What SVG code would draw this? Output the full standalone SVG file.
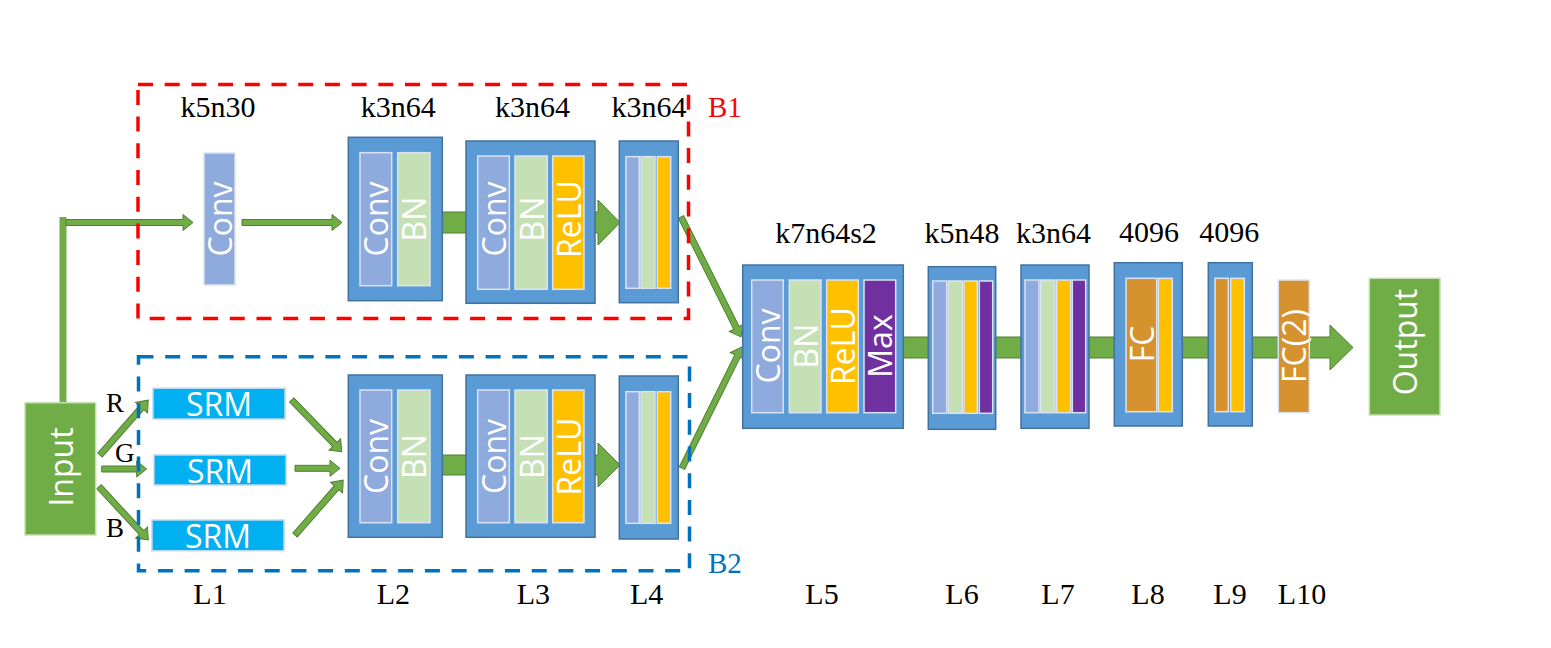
<svg xmlns="http://www.w3.org/2000/svg" width="1551" height="648" viewBox="0 0 1551 648">
<style>
.bg{fill:#ffffff}
.lbl{font-family:"Liberation Serif","Times New Roman",serif;font-size:30px;fill:#000000;text-anchor:middle}
.rgb{font-family:"Liberation Serif","Times New Roman",serif;font-size:27px;fill:#000000}
.blk{fill:#5b9bd5;stroke:#41719c;stroke-width:1.5}
.sub{stroke:#dae3f3;stroke-width:1.5}
.conv{fill:#8faadc}
.bn{fill:#c5e0b4}
.relu{fill:#ffc000}
.max{fill:#7030a0}
.fc{fill:#d6922e}
.srm{fill:#00b0f0;stroke:#bdd7ee;stroke-width:1.5}
.io{fill:#70ad47;stroke:#c5e0b4;stroke-width:1.5}
.wt{font-family:"Open Sans","Noto Sans","DejaVu Sans",sans-serif;font-size:32px;fill:#ffffff;text-anchor:middle;dominant-baseline:central}
.arr{fill:#70ad47;stroke:#507e32;stroke-width:1}
.trunk{fill:#70ad47}
</style>
<rect class="bg" x="0" y="0" width="1551" height="648"/>

<g id="connectors">
  <rect class="trunk" x="59.5" y="217" width="7" height="186"/>
  <path class="arr" transform="translate(66,222.5)" d="M0,-3 H117 V-8 L127,0 L117,8 V3 H0 Z"/>
  <path class="arr" transform="translate(242,222.5)" d="M0,-3 H90 V-8 L100,0 L90,8 V3 H0 Z"/>
  <path class="arr" d="M442,212 H598 V200 L620,222.5 L598,245 V233 H442 Z"/>
  <path class="arr" d="M442,455 H598 V443 L620,465 L598,487 V475 H442 Z"/>
  <path class="arr" transform="translate(681,217) rotate(63.43)" d="M0,-3 H124 V-8 L134,0 L124,8 V3 H0 Z"/>
  <path class="arr" transform="translate(682,468) rotate(-63.6)" d="M0,-3 H125 V-8 L135,0 L125,8 V3 H0 Z"/>
  <path class="arr" transform="translate(100,455) rotate(-48.7)" d="M0,-3 H63 V-8 L73,0 L63,8 V3 H0 Z"/>
  <path class="arr" transform="translate(101.7,469)" d="M0,-3 H35 V-8 L45,0 L35,8 V3 H0 Z"/>
  <path class="arr" transform="translate(99,486.7) rotate(47.2)" d="M0,-3 H62.6 V-8 L72.6,0 L62.6,8 V3 H0 Z"/>
  <path class="arr" transform="translate(291.7,400) rotate(45.9)" d="M0,-3 H62 V-8 L72,0 L62,8 V3 H0 Z"/>
  <path class="arr" transform="translate(295,468.3)" d="M0,-3 H35 V-8 L45,0 L35,8 V3 H0 Z"/>
  <path class="arr" transform="translate(295,535) rotate(-48.7)" d="M0,-3 H63 V-8 L73,0 L63,8 V3 H0 Z"/>
  <path class="arr" d="M903,337 H1330 V325 L1353,347.5 L1330,370 V358 H903 Z"/>
</g>

<g id="B1">
  <rect x="138" y="84.5" width="550.5" height="234" fill="none" stroke="#ff0000" stroke-width="3.5" stroke-dasharray="15 11.7"/>
  <text x="708" y="117" font-family="Liberation Serif, Times New Roman, serif" font-size="29" fill="#ff0000">B1</text>
</g>
<g id="B2">
  <rect x="138.5" y="356.7" width="551" height="214" fill="none" stroke="#0070c0" stroke-width="3.5" stroke-dasharray="15 11.7"/>
  <text x="708" y="573" font-family="Liberation Serif, Times New Roman, serif" font-size="29" fill="#0070c0">B2</text>
</g>

<g id="input">
  <rect class="io" x="25" y="402.7" width="70.7" height="132.3"/>
  <text class="wt" transform="translate(60.3,467) rotate(-90)" x="0" y="0">Input</text>
</g>
<g id="rgb-labels">
  <text class="rgb" x="106" y="412">R</text>
  <text class="rgb" x="115" y="461.5">G</text>
  <text class="rgb" x="106" y="536.5">B</text>
</g>

<g id="b1-l1">
  <rect class="sub conv" x="204" y="153" width="31" height="132"/>
  <text class="wt" transform="translate(219.5,219) rotate(-90)">Conv</text>
</g>
<g id="b1-l2">
  <rect class="blk" x="348.3" y="137.3" width="94" height="163.4"/>
  <rect class="sub conv" x="360" y="152.7" width="31.7" height="133"/>
  <rect class="sub bn" x="397.7" y="152.7" width="32.3" height="133"/>
  <text class="wt" transform="translate(375.8,219) rotate(-90)">Conv</text>
  <text class="wt" transform="translate(413.8,219) rotate(-90)">BN</text>
</g>
<g id="b1-l3">
  <rect class="blk" x="466" y="141" width="129" height="162.3"/>
  <rect class="sub conv" x="477.7" y="156" width="31.6" height="133.3"/>
  <rect class="sub bn" x="515" y="156" width="32.3" height="133.3"/>
  <rect class="sub relu" x="552.7" y="156" width="31.3" height="133.3"/>
  <text class="wt" transform="translate(493.5,219) rotate(-90)">Conv</text>
  <text class="wt" transform="translate(531.2,219) rotate(-90)">BN</text>
  <text class="wt" transform="translate(568.3,219) rotate(-90)">ReLU</text>
</g>
<g id="b1-l4">
  <rect class="blk" x="619.3" y="141" width="59" height="161.7"/>
  <rect class="sub conv" x="626" y="156.7" width="13.3" height="131.6"/>
  <rect class="sub bn" x="641" y="156.7" width="14" height="131.6"/>
  <rect class="sub relu" x="657.3" y="156.7" width="13.4" height="131.6"/>
</g>

<g id="srm-r">
  <rect class="srm" x="153" y="388.3" width="132" height="30.7"/>
  <text class="wt" x="219" y="403.5">SRM</text>
</g>
<g id="srm-g">
  <rect class="srm" x="154" y="455" width="132" height="30"/>
  <text class="wt" x="220" y="470">SRM</text>
</g>
<g id="srm-b">
  <rect class="srm" x="152" y="520" width="132" height="30.7"/>
  <text class="wt" x="218" y="535.5">SRM</text>
</g>
<g id="b2-l2">
  <rect class="blk" x="348.3" y="375" width="94" height="162.3"/>
  <rect class="sub conv" x="360" y="390" width="31.7" height="132.7"/>
  <rect class="sub bn" x="397.7" y="390" width="32.3" height="132.7"/>
  <text class="wt" transform="translate(375.8,456.5) rotate(-90)">Conv</text>
  <text class="wt" transform="translate(413.8,456.5) rotate(-90)">BN</text>
</g>
<g id="b2-l3">
  <rect class="blk" x="466" y="375" width="129" height="162.3"/>
  <rect class="sub conv" x="477.7" y="390" width="31.6" height="132.7"/>
  <rect class="sub bn" x="515" y="390" width="32.3" height="132.7"/>
  <rect class="sub relu" x="552.7" y="390" width="31.3" height="132.7"/>
  <text class="wt" transform="translate(493.5,456.5) rotate(-90)">Conv</text>
  <text class="wt" transform="translate(531.2,456.5) rotate(-90)">BN</text>
  <text class="wt" transform="translate(568.3,456.5) rotate(-90)">ReLU</text>
</g>
<g id="b2-l4">
  <rect class="blk" x="619.3" y="376" width="59" height="163"/>
  <rect class="sub conv" x="626" y="391.7" width="13.3" height="131.6"/>
  <rect class="sub bn" x="641" y="391.7" width="14" height="131.6"/>
  <rect class="sub relu" x="657.3" y="391.7" width="13.4" height="131.6"/>
</g>

<g id="l5">
  <rect class="blk" x="742.7" y="265" width="160.6" height="163.3"/>
  <rect class="sub conv" x="751.7" y="280" width="31.6" height="132.7"/>
  <rect class="sub bn" x="789.3" y="280" width="31.7" height="132.7"/>
  <rect class="sub relu" x="826.7" y="280" width="31.6" height="132.7"/>
  <rect class="sub max" x="864" y="280" width="31.7" height="132.7"/>
  <text class="wt" transform="translate(767.5,346) rotate(-90)">Conv</text>
  <text class="wt" transform="translate(805.2,346) rotate(-90)">BN</text>
  <text class="wt" transform="translate(842.5,346) rotate(-90)">ReLU</text>
  <text class="wt" transform="translate(879.8,346) rotate(-90)">Max</text>
</g>
<g id="l6">
  <rect class="blk" x="928.3" y="266.7" width="67.4" height="162.6"/>
  <rect class="sub conv" x="932.7" y="281" width="14" height="132.3"/>
  <rect class="sub bn" x="948.3" y="281" width="14" height="132.3"/>
  <rect class="sub relu" x="964" y="281" width="13.3" height="132.3"/>
  <rect class="sub max" x="979.3" y="281" width="13.4" height="132.3"/>
</g>
<g id="l7">
  <rect class="blk" x="1021" y="265" width="68" height="163.3"/>
  <rect class="sub conv" x="1025" y="280" width="14" height="132.7"/>
  <rect class="sub bn" x="1040.7" y="280" width="14.3" height="132.7"/>
  <rect class="sub relu" x="1056.7" y="280" width="14" height="132.7"/>
  <rect class="sub max" x="1072.3" y="280" width="13.4" height="132.7"/>
</g>
<g id="l8">
  <rect class="blk" x="1114.3" y="262.7" width="68" height="163.3"/>
  <rect class="sub fc" x="1126" y="278.3" width="30.7" height="133.4"/>
  <rect class="sub relu" x="1158.3" y="278.3" width="14" height="133.4"/>
  <text class="wt" transform="translate(1141.3,344) rotate(-90)">FC</text>
</g>
<g id="l9">
  <rect class="blk" x="1208.3" y="262.7" width="44" height="163.3"/>
  <rect class="sub fc" x="1215" y="278.3" width="13.3" height="133.4"/>
  <rect class="sub relu" x="1230.7" y="278.3" width="13.6" height="133.4"/>
</g>
<g id="l10">
  <rect class="sub fc" x="1278.3" y="280" width="31" height="132.7"/>
  <text class="wt" transform="translate(1293.8,346) rotate(-90)">FC(2)</text>
</g>
<g id="output">
  <rect class="io" x="1369.3" y="278.3" width="70.7" height="136.7"/>
  <text class="wt" transform="translate(1404.7,342) rotate(-90)">Output</text>
</g>

<g id="params">
  <text class="lbl" x="218" y="117">k5n30</text>
  <text class="lbl" x="398.3" y="117">k3n64</text>
  <text class="lbl" x="532.5" y="117">k3n64</text>
  <text class="lbl" x="649" y="117">k3n64</text>
  <text class="lbl" x="826" y="243">k7n64s2</text>
  <text class="lbl" x="962" y="243">k5n48</text>
  <text class="lbl" x="1053.5" y="243">k3n64</text>
  <text class="lbl" x="1149" y="242">4096</text>
  <text class="lbl" x="1229.3" y="242">4096</text>
</g>
<g id="layer-labels">
  <text class="lbl" x="210" y="604">L1</text>
  <text class="lbl" x="393.3" y="604">L2</text>
  <text class="lbl" x="533.3" y="604">L3</text>
  <text class="lbl" x="646.7" y="604">L4</text>
  <text class="lbl" x="822" y="604">L5</text>
  <text class="lbl" x="962" y="604">L6</text>
  <text class="lbl" x="1058" y="604">L7</text>
  <text class="lbl" x="1148" y="604">L8</text>
  <text class="lbl" x="1230" y="604">L9</text>
  <text class="lbl" x="1302" y="604">L10</text>
</g>
</svg>
